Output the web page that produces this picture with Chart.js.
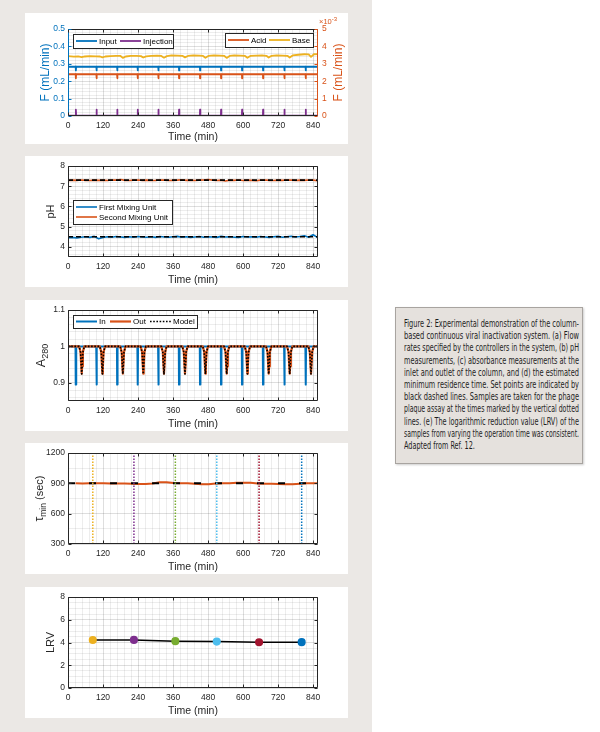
<!DOCTYPE html>
<html>
<head>
<meta charset="utf-8">
<script src="https://cdn.jsdelivr.net/npm/chart.js@4.4.0/dist/chart.umd.min.js"></script>
<style>
  html, body { margin: 0; padding: 0; }
  body { width: 600px; height: 732px; position: relative; background: #fff; overflow: hidden; }
  #column { position: absolute; left: 0; top: 0; width: 372px; height: 732px; background: #ebe8e5; }
  .panel { position: absolute; left: 25px; width: 323px; height: 131px; background: #fff; }
  .panel canvas { display: block; }
  #caption {
    position: absolute; left: 395px; top: 307px; width: 188px; height: 157px; box-sizing: border-box;
    background: #e5e1dd; border: 1px solid #a8a4a0; box-shadow: 1px 1px 2px rgba(0,0,0,0.2);
    padding: 9px 0 0 8px; color: #1e1e1e;
    font-family: "Liberation Sans Narrow", "DejaVu Sans Condensed", "Liberation Sans", sans-serif;
    font-size: 10.5px; line-height: 12.2px;
  }
  #caption .ln { display: block; white-space: nowrap; height: 12.2px; }
  #caption .ln span { display: inline-block; transform-origin: 0 50%; }
</style>
</head>
<body>
<div id="column"></div>
<div class="panel" style="top:13px"><canvas id="flowChart" width="323" height="131"></canvas></div>
<div class="panel" style="top:156px"><canvas id="phChart" width="323" height="131"></canvas></div>
<div class="panel" style="top:300px"><canvas id="absChart" width="323" height="131"></canvas></div>
<div class="panel" style="top:443px"><canvas id="tauChart" width="323" height="131"></canvas></div>
<div class="panel" style="top:587px"><canvas id="lrvChart" width="323" height="131"></canvas></div>

<div id="caption">
  <div class="ln"><span>Figure 2: Experimental demonstration of the column-</span></div>
  <div class="ln"><span>based continuous viral inactivation system. (a) Flow</span></div>
  <div class="ln"><span>rates specified by the controllers in the system, (b) pH</span></div>
  <div class="ln"><span>measurements, (c) absorbance measurements at the</span></div>
  <div class="ln"><span>inlet and outlet of the column, and (d) the estimated</span></div>
  <div class="ln"><span>minimum residence time. Set points are indicated by</span></div>
  <div class="ln"><span>black dashed lines. Samples are taken for the phage</span></div>
  <div class="ln"><span>plaque assay at the times marked by the vertical dotted</span></div>
  <div class="ln"><span>lines. (e) The logarithmic reduction value (LRV) of the</span></div>
  <div class="ln"><span>samples from varying the operation time was consistent.</span></div>
  <div class="ln last"><span>Adapted from Ref. 12.</span></div>
</div>

<script>
// ---- data ----
const xMax = 857;
const timeTicks = [0, 120, 240, 360, 480, 600, 720, 840];

// (a) flow rates
const injectTimes = [27, 98, 169, 239, 310, 381, 453, 525, 597, 669, 742, 815];
const spikeOffsets = [-0.8, -0.3, 0.3, 0.8];
const inputFlowSpike = [0.283, 0.262, 0.262, 0.283];
const injectionFlowSpike = [0.002, 0.036, 0.036, 0.002];
const acidFlowSpike = [2.40, 2.17, 2.17, 2.40]; // x10^-3 mL/min
const baseTimes = [0, 10, 20, 35, 47, 58, 75, 95, 110, 118, 128, 145, 165, 180, 188, 198, 215, 235, 250, 258,
  268, 285, 305, 320, 329, 339, 355, 375, 392, 401, 411, 430, 450, 463, 471, 481, 500, 520, 536, 544,
  554, 570, 590, 607, 615, 625, 645, 665, 680, 688, 698, 715, 735, 752, 760, 770, 790, 810, 825, 833, 843, 857];
const baseFlow = [3.44, 3.43, 3.41, 3.42, 3.38, 3.42, 3.44, 3.43, 3.42, 3.37, 3.42, 3.44, 3.46, 3.45, 3.34, 3.42, 3.46, 3.45, 3.44, 3.36,
  3.43, 3.46, 3.47, 3.45, 3.35, 3.44, 3.48, 3.47, 3.46, 3.37, 3.45, 3.48, 3.47, 3.45, 3.35, 3.45, 3.48, 3.47, 3.45, 3.34,
  3.45, 3.48, 3.47, 3.45, 3.35, 3.45, 3.47, 3.48, 3.46, 3.36, 3.46, 3.48, 3.47, 3.46, 3.36, 3.48, 3.52, 3.55, 3.54, 3.40, 3.55, 3.56];

// (b) pH
const phTimes = [0, 15, 30, 45, 60, 75, 90, 105, 120, 135, 150, 165, 180, 195, 210, 225, 240, 255, 270, 285,
  300, 315, 330, 345, 360, 375, 390, 405, 420, 435, 450, 465, 480, 495, 510, 525, 540, 555, 570, 585,
  600, 615, 630, 645, 660, 675, 690, 705, 720, 735, 750, 765, 780, 795, 810, 825, 840, 855];
const phFirst = [4.45, 4.47, 4.44, 4.48, 4.50, 4.47, 4.52, 4.40, 4.46, 4.50, 4.48, 4.51, 4.49, 4.47, 4.50, 4.48, 4.51, 4.49, 4.48, 4.50,
  4.47, 4.51, 4.49, 4.48, 4.50, 4.52, 4.48, 4.50, 4.47, 4.49, 4.51, 4.48, 4.50, 4.49, 4.47, 4.52, 4.49, 4.50, 4.48, 4.47,
  4.51, 4.49, 4.50, 4.48, 4.51, 4.49, 4.47, 4.50, 4.52, 4.48, 4.50, 4.53, 4.49, 4.51, 4.55, 4.48, 4.60, 4.47];
const phSecond = [7.28, 7.30, 7.29, 7.31, 7.29, 7.28, 7.30, 7.29, 7.30, 7.28, 7.31, 7.30, 7.33, 7.29, 7.28, 7.30, 7.31, 7.29, 7.30, 7.28,
  7.29, 7.31, 7.30, 7.28, 7.29, 7.30, 7.32, 7.29, 7.30, 7.28, 7.30, 7.31, 7.33, 7.30, 7.28, 7.30, 7.26, 7.30, 7.29, 7.31,
  7.28, 7.30, 7.29, 7.27, 7.30, 7.31, 7.29, 7.28, 7.30, 7.29, 7.31, 7.30, 7.28, 7.30, 7.29, 7.31, 7.30, 7.27];
const phSetpoints = [4.5, 7.3];

// (c) A280
const inDipOffsets = [-1.2, -0.5, 0.5, 1.2];
const inDipValues = [1.0, 0.895, 0.895, 1.0];
const outTimes = [47, 118, 188, 258, 329, 401, 471, 544, 615, 688, 760, 833];
const outDipOffsets = [-9, -4, -1.5, 0, 1.5, 4, 9];
const outDipValues = [1.0, 0.985, 0.945, 0.925, 0.945, 0.985, 1.0];
const modelDipValues = [1.0, 0.984, 0.943, 0.924, 0.943, 0.984, 1.0];

// (d) minimum residence time
const tauTimes = [26, 50, 74, 98, 122, 146, 170, 194, 218, 242, 266, 290, 314, 338, 362, 386, 410, 434, 458, 482,
  506, 530, 554, 578, 602, 626, 650, 674, 698, 722, 746, 770, 794, 818, 842, 857];
const tauMin = [900, 899, 900, 901, 900, 899, 898, 898, 896, 893, 893, 899, 910, 910, 903, 901, 902, 896, 890, 891,
  899, 901, 900, 905, 907, 906, 899, 896, 896, 893, 892, 892, 897, 900, 900, 900];
const tauSetpoint = 900;

// (e) samples / LRV
const sampleTimes = [85, 226, 368, 510, 655, 801];
const lrv = [4.22, 4.23, 4.12, 4.08, 4.02, 4.03];

// ---- styling ----
const C = {
  blue: '#0072BD', orange: '#D95319', yellow: '#EDB120', purple: '#7E2F8E',
  green: '#77AC30', cyan: '#4DBEEE', darkred: '#A2142F', axis: '#262626'
};
const sampleColors = [C.yellow, C.purple, C.green, C.cyan, C.darkred, C.blue];
const FONT = '"Liberation Sans", Arial, Helvetica, sans-serif';
const gridMajor = 'rgba(0,0,0,0.13)';
const gridMinor = 'rgba(0,0,0,0.07)';

Chart.defaults.font.family = FONT;
Chart.defaults.color = C.axis;

function xy(xs, ys) { return xs.map((x, i) => ({ x: x, y: ys[i] })); }

function spikeSeries(times, offsets, values, base) {
  const pts = [{ x: 0, y: base }];
  times.forEach(t => offsets.forEach((o, k) => pts.push({ x: t + o, y: values[k] })));
  pts.push({ x: xMax, y: base });
  return pts;
}

function hLine(y) { return [{ x: 0, y: y }, { x: xMax, y: y }]; }

function makeAxis(o) {
  const ticks = [];
  const start = Math.ceil(o.min / o.minor - 1e-9);
  for (let i = start; i * o.minor <= o.max + 1e-9; i++) ticks.push(+(i * o.minor).toFixed(6));
  const isMajor = v => o.majors.some(m => Math.abs(m - v) < o.minor / 100);
  return {
    type: 'linear', position: o.position, min: o.min, max: o.max,
    afterBuildTicks: s => { s.ticks = ticks.map(v => ({ value: v })); },
    afterFit: s => { if (s.isHorizontal()) s.height = o.size; else s.width = o.size; },
    grid: {
      drawTicks: false, drawOnChartArea: o.grid !== false, lineWidth: 1,
      color: c => isMajor(c.tick.value) ? gridMajor : gridMinor
    },
    border: { display: false },
    ticks: {
      autoSkip: false, maxRotation: 0, padding: o.pad, color: o.color || C.axis,
      font: { size: 8.5 }, callback: v => isMajor(v) ? o.fmt(v) : ''
    },
    title: o.title ? { display: true, text: o.title, color: C.axis, font: { size: 10.5 }, padding: { top: 0, bottom: 1 } } : { display: false }
  };
}

function timeAxis(size) {
  return makeAxis({ min: 0, max: xMax, majors: timeTicks, minor: 24, size: size, pad: 5, fmt: v => String(v), title: 'Time (min)' });
}

function options(scales, top, right, plugins) {
  return {
    responsive: false, animation: false, events: [],
    layout: { padding: { top: top, right: right, left: 0, bottom: 0 } },
    elements: { point: { radius: 0 }, line: { tension: 0, borderJoinStyle: 'round' } },
    scales: scales,
    plugins: Object.assign({ legend: { display: false }, tooltip: { enabled: false } }, plugins)
  };
}

// ---- plugins: MATLAB style frame, boxed legends, rotated titles ----
const framePlugin = {
  id: 'frame',
  afterDatasetsDraw(chart, args, opts) {
    const { ctx, chartArea: a, scales } = chart;
    const L = Math.round(a.left) + 0.5, R = Math.round(a.right) - 0.5;
    const T = Math.round(a.top) + 0.5, B = Math.round(a.bottom) - 0.5;
    const lc = opts.leftColor || C.axis, rc = opts.rightColor || C.axis;
    const seg = (x1, y1, x2, y2, c) => { ctx.strokeStyle = c; ctx.beginPath(); ctx.moveTo(x1, y1); ctx.lineTo(x2, y2); ctx.stroke(); };
    ctx.save();
    ctx.lineWidth = 1;
    seg(L, T, R, T, C.axis); seg(L, B, R, B, C.axis);
    seg(L, T, L, B, lc); seg(R, T, R, B, rc);
    const tl = 3;
    scales.x.ticks.forEach(t => {
      if (!t.label) return;
      const px = Math.round(scales.x.getPixelForValue(t.value)) + 0.5;
      seg(px, B, px, B - tl, C.axis); seg(px, T, px, T + tl, C.axis);
    });
    const yl = scales.y, yr = scales.y2 || scales.y;
    yl.ticks.forEach(t => {
      if (!t.label) return;
      const py = Math.round(yl.getPixelForValue(t.value)) + 0.5;
      seg(L, py, L + tl, py, lc);
    });
    yr.ticks.forEach(t => {
      if (!t.label) return;
      const py = Math.round(yr.getPixelForValue(t.value)) + 0.5;
      seg(R, py, R - tl, py, rc);
    });
    ctx.restore();
  }
};

const boxLegend = {
  id: 'boxLegend',
  afterDraw(chart, args, opts) {
    const ctx = chart.ctx;
    (opts.boxes || []).forEach(b => {
      ctx.save();
      ctx.fillStyle = '#fff';
      ctx.fillRect(b.x, b.y, b.w, b.h);
      ctx.strokeStyle = C.axis; ctx.lineWidth = 1;
      ctx.strokeRect(b.x + 0.5, b.y + 0.5, b.w, b.h);
      b.items.forEach(([i, lx, ly]) => {
        const ds = chart.data.datasets[i];
        ctx.strokeStyle = ds.borderColor; ctx.lineWidth = ds.borderWidth;
        ctx.setLineDash(ds.borderDash || []);
        ctx.beginPath(); ctx.moveTo(lx, ly); ctx.lineTo(lx + 21, ly); ctx.stroke();
        ctx.setLineDash([]);
        ctx.fillStyle = '#000'; ctx.font = '8px ' + FONT;
        ctx.textBaseline = 'middle'; ctx.textAlign = 'left';
        ctx.fillText(ds.label, lx + 23, ly + 0.5);
      });
      ctx.restore();
    });
  }
};

const annotPlugin = {
  id: 'annot',
  afterDraw(chart, args, opts) {
    const { ctx, chartArea: a } = chart;
    (opts.items || []).forEach(it => {
      ctx.save();
      const y = it.y === undefined ? (a.top + a.bottom) / 2 : it.y;
      ctx.translate(it.x, y);
      if (it.rotate) ctx.rotate(-Math.PI / 2);
      ctx.fillStyle = it.color || C.axis;
      ctx.textBaseline = 'middle'; ctx.textAlign = 'left';
      const fonts = it.parts.map(p => (p.italic ? 'italic ' : '') + p.size + 'px ' + FONT);
      const widths = it.parts.map((p, i) => { ctx.font = fonts[i]; return ctx.measureText(p.text).width; });
      const total = widths.reduce((s, w) => s + w, 0);
      let x = it.align === 'left' ? 0 : -total / 2;
      it.parts.forEach((p, i) => { ctx.font = fonts[i]; ctx.fillText(p.text, x, p.dy || 0); x += widths[i]; });
      ctx.restore();
    });
  }
};

Chart.register(framePlugin, boxLegend, annotPlugin);

// (a) flow rates
new Chart(document.getElementById('flowChart'), {
  type: 'line',
  data: {
    datasets: [
      { label: 'Input', data: spikeSeries(injectTimes, spikeOffsets, inputFlowSpike, inputFlowSpike[0]), borderColor: C.blue, borderWidth: 1.8, yAxisID: 'y' },
      { label: 'Injection', data: spikeSeries(injectTimes, spikeOffsets, injectionFlowSpike, injectionFlowSpike[0]), borderColor: C.purple, borderWidth: 1.8, yAxisID: 'y' },
      { label: 'Acid', data: spikeSeries(injectTimes, spikeOffsets, acidFlowSpike, acidFlowSpike[0]), borderColor: C.orange, borderWidth: 1.8, yAxisID: 'y2' },
      { label: 'Base', data: xy(baseTimes, baseFlow), borderColor: C.yellow, borderWidth: 1.8, yAxisID: 'y2' }
    ]
  },
  options: options({
    x: timeAxis(28),
    y: makeAxis({ position: 'left', min: 0, max: 0.5, majors: [0, 0.1, 0.2, 0.3, 0.4, 0.5], minor: 0.02, size: 43, pad: 3, color: C.blue, fmt: v => String(+v.toFixed(2)) }),
    y2: makeAxis({ position: 'right', min: 0, max: 5, majors: [0, 1, 2, 3, 4, 5], minor: 1, size: 30, pad: 4, color: C.orange, grid: false, fmt: v => String(v) })
  }, 16, 0, {
    frame: { leftColor: C.blue, rightColor: C.orange },
    boxLegend: { boxes: [
      { x: 48, y: 21, w: 100, h: 14, items: [[0, 51, 28], [1, 95, 28]] },
      { x: 200, y: 20, w: 88, h: 14, items: [[2, 203, 27], [3, 244, 27]] }
    ] },
    annot: { items: [
      { x: 21, rotate: true, color: C.blue, parts: [{ text: 'F (mL/min)', size: 12 }] },
      { x: 314, rotate: true, color: C.orange, parts: [{ text: 'F (mL/min)', size: 12 }] },
      { x: 294, y: 9, align: 'left', color: C.orange, parts: [{ text: '\u00d710', size: 7.5 }, { text: '-3', size: 6, dy: -3 }] }
    ] }
  })
});

// (b) pH  (lower "order" is drawn on top)
new Chart(document.getElementById('phChart'), {
  type: 'line',
  data: {
    datasets: [
      { label: 'First Mixing Unit', data: xy(phTimes, phFirst), borderColor: C.blue, borderWidth: 1.6, order: 2 },
      { label: 'Second Mixing Unit', data: xy(phTimes, phSecond), borderColor: C.orange, borderWidth: 1.6, order: 2 },
      { label: 'Set point 1', data: hLine(phSetpoints[0]), borderColor: '#000', borderWidth: 1.6, borderDash: [5, 3], order: 1 },
      { label: 'Set point 2', data: hLine(phSetpoints[1]), borderColor: '#000', borderWidth: 1.6, borderDash: [5, 3], order: 1 }
    ]
  },
  options: options({
    x: timeAxis(30),
    y: makeAxis({ position: 'left', min: 3.5, max: 8, majors: [4, 5, 6, 7, 8], minor: 0.2, size: 43, pad: 3, fmt: v => String(v) })
  }, 10, 30, {
    boxLegend: { boxes: [
      { x: 48, y: 44, w: 99, h: 24, items: [[0, 51, 51], [1, 51, 61]] }
    ] },
    annot: { items: [{ x: 26, rotate: true, parts: [{ text: 'pH', size: 11 }] }] }
  })
});

// (c) A280
new Chart(document.getElementById('absChart'), {
  type: 'line',
  data: {
    datasets: [
      { label: 'In', data: spikeSeries(injectTimes, inDipOffsets, inDipValues, 1.0), borderColor: C.blue, borderWidth: 2, order: 3 },
      { label: 'Out', data: spikeSeries(outTimes, outDipOffsets, outDipValues, 1.0), borderColor: C.orange, borderWidth: 2.2, order: 2 },
      { label: 'Model', data: spikeSeries(outTimes, outDipOffsets, modelDipValues, 1.0), borderColor: '#000', borderWidth: 1.6, borderDash: [1.6, 1.6], order: 1 }
    ]
  },
  options: options({
    x: timeAxis(30),
    y: makeAxis({ position: 'left', min: 0.85, max: 1.1, majors: [0.9, 1, 1.1], minor: 0.02, size: 43, pad: 3, fmt: v => String(+v.toFixed(2)) })
  }, 10, 30, {
    boxLegend: { boxes: [
      { x: 48, y: 15, w: 124, h: 13, items: [[0, 51, 21.5], [1, 85, 21.5], [2, 125, 21.5]] }
    ] },
    annot: { items: [{ x: 17, rotate: true, parts: [{ text: 'A', size: 12.5 }, { text: '280', size: 9, dy: 3.5 }] }] }
  })
});

// (d) minimum residence time
const tauDatasets = [
  { label: 'tau', data: xy(tauTimes, tauMin), borderColor: C.orange, borderWidth: 2, order: 3 },
  { label: 'Set point', data: hLine(tauSetpoint), borderColor: '#000', borderWidth: 2, borderDash: [7, 14], order: 2 }
];
sampleTimes.forEach((t, i) => tauDatasets.push({
  label: 'Sample ' + (i + 1), data: [{ x: t, y: 300 }, { x: t, y: 1200 }],
  borderColor: sampleColors[i], borderWidth: 1.5, borderDash: [1.5, 1.5], order: 1
}));
new Chart(document.getElementById('tauChart'), {
  type: 'line',
  data: { datasets: tauDatasets },
  options: options({
    x: timeAxis(30),
    y: makeAxis({ position: 'left', min: 300, max: 1200, majors: [300, 600, 900, 1200], minor: 150, size: 43, pad: 3, fmt: v => String(v) })
  }, 10, 30, {
    annot: { items: [{ x: 15, rotate: true, parts: [{ text: '\u03c4', size: 12 }, { text: 'min', size: 8.5, dy: 3.5 }, { text: ' (sec)', size: 11 }] }] }
  })
});

// (e) LRV
new Chart(document.getElementById('lrvChart'), {
  type: 'line',
  data: {
    datasets: [{
      label: 'LRV', data: xy(sampleTimes, lrv), borderColor: '#000', borderWidth: 1.5,
      pointRadius: 3.3, pointBorderWidth: 1.5, pointBackgroundColor: sampleColors, pointBorderColor: sampleColors
    }]
  },
  options: options({
    x: timeAxis(30),
    y: makeAxis({ position: 'left', min: 0, max: 8, majors: [0, 2, 4, 6, 8], minor: 0.5, size: 43, pad: 3, fmt: v => String(v) })
  }, 10, 30, {
    annot: { items: [{ x: 26, rotate: true, parts: [{ text: 'LRV', size: 11 }] }] }
  })
});

// fit caption lines to the box width like the justified original
const captionWidth = 175;
const spans = Array.from(document.querySelectorAll('#caption .ln span'));
const factors = [];
spans.forEach(s => {
  if (s.parentElement.classList.contains('last')) return;
  const k = captionWidth / s.getBoundingClientRect().width;
  factors.push(k);
  s.style.transform = 'scaleX(' + k + ')';
});
const meanK = factors.reduce((a, b) => a + b, 0) / factors.length;
spans.forEach(s => {
  if (s.parentElement.classList.contains('last')) s.style.transform = 'scaleX(' + meanK + ')';
});
</script>
</body>
</html>
